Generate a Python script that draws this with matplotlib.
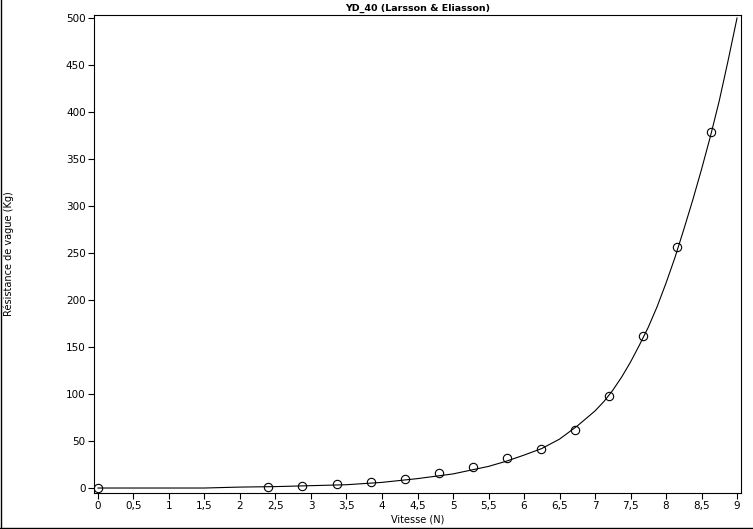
import matplotlib.pyplot as plt
from matplotlib.lines import Line2D
from matplotlib.ticker import FuncFormatter, MultipleLocator

# measured points
vitesse = [0, 2.4, 2.88, 3.36, 3.84, 4.32, 4.8, 5.28, 5.76, 6.24, 6.72, 7.2, 7.68, 8.16, 8.64]
resistance = [0, 1, 2, 4, 6, 10, 16, 22, 32, 42, 62, 98, 162, 256, 379]

# fitted curve
curve_x = [0, 0.5, 1, 1.5, 2, 2.5, 3, 3.5, 4, 4.5, 5, 5.25, 5.5, 5.75, 6, 6.25,
           6.5, 6.625, 6.75, 6.875, 7, 7.125, 7.25, 7.375, 7.5, 7.625, 7.75, 7.875,
           8, 8.125, 8.25, 8.375, 8.5, 8.625, 8.75, 8.875, 9]
curve_y = [0, 0, 0, 0, 1, 1.5, 2.5, 3.5, 6, 10, 15, 19, 23, 28.5, 35, 42,
           52, 59, 66, 74, 82, 92, 104, 118, 134, 152, 171, 193,
           218, 245, 275, 306, 339, 374, 412, 455, 500]

plt.rcParams['font.family'] = 'DejaVu Sans'
fig = plt.figure(figsize=(7.53, 5.29), dpi=100)
ax = fig.add_axes([94 / 753, 1 - 493 / 529, 647 / 753, 478 / 529])

ax.plot(curve_x, curve_y, color="black", linewidth=0.8)
ax.plot(vitesse, resistance, linestyle="none", marker="o", markersize=6,
        markerfacecolor="none", markeredgecolor="black", markeredgewidth=0.8)

ax.set_xlim(-0.056, 9.056)
ax.set_ylim(-5.3, 503.2)
ax.xaxis.set_major_locator(MultipleLocator(0.5))
ax.yaxis.set_major_locator(MultipleLocator(50))
ax.xaxis.set_major_formatter(FuncFormatter(lambda v, p: ("%g" % v).replace(".", ",")))
ax.tick_params(direction="out", length=4, width=0.8, labelsize=7.5, pad=2)
for s in ax.spines.values():
    s.set_linewidth(0.8)

ax.set_title("YD_40 (Larsson & Eliasson)", fontsize=6.8, fontweight="bold", pad=3)
ax.set_xlabel("Vitesse (N)", fontsize=7, labelpad=2)
ax.set_ylabel("Résistance de vague (Kg)", fontsize=7)
ax.yaxis.set_label_coords(-80 / 647, 0.5)

# frame lines around the image
fig.add_artist(Line2D([0.5 / 753, 0.5 / 753], [0, 1], color="black", linewidth=1))
fig.add_artist(Line2D([0, 1], [1.5 / 529, 1.5 / 529], color="black", linewidth=1))

fig.savefig("out.png", dpi=100)
